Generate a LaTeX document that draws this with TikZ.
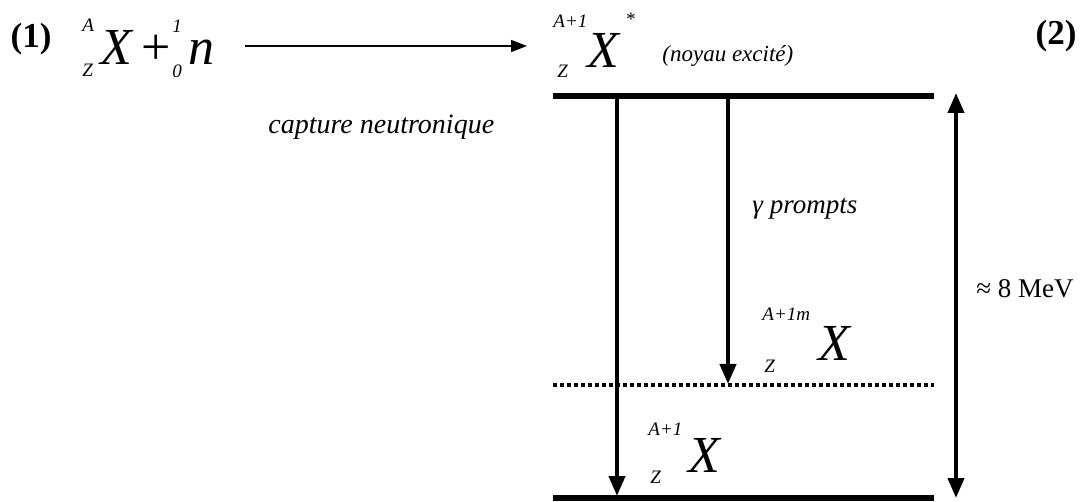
\documentclass[tikz,border=0pt]{standalone}
\usepackage{fontspec}
\setmainfont{Liberation Serif}
\usetikzlibrary{arrows.meta,positioning}

\begin{document}
\begin{tikzpicture}[x=0.5pt, y=-0.5pt,
  big/.style={font=\fontsize{26}{26}\selectfont\itshape, inner sep=0pt, anchor=base west},
  idx/.style={font=\fontsize{9.5}{9.5}\selectfont\itshape, inner sep=0pt, anchor=base west},
  lbl/.style={font=\fontsize{13.5}{13.5}\selectfont\itshape, inner sep=0pt, anchor=base west},
  level/.style={line width=3pt},
  trans/.style={line width=2pt, -{Triangle[width=8pt,length=10pt]}}]
\useasboundingbox (0,0) rectangle (1082,502);

% Reaction (1)
\node (r1) at (31,39) [font=\fontsize{17.5}{17.5}\selectfont\bfseries] {(1)};
\node (tA) at (82,32) [idx] {A};
\node (tZ) at (82,77) [idx] {Z};
\node (tX) at (100,65) [big] {X};
\node (plus) at (141,65) [big, font=\fontsize{26}{26}\selectfont] {+};
\node (nA) at (172,33) [idx] {1};
\node (nZ) at (172,78) [idx] {0};
\node (nn) at (188,65) [big] {n};

% Neutron capture
\coordinate (capt-s) at (245,46);
\coordinate (capt-e) at (527,46);
\draw[line width=0.8pt, -{Triangle[width=6pt,length=8pt]}] (capt-s) -- (capt-e);
\node (capt) at (268,134) [lbl, font=\fontsize{14}{14}\selectfont\itshape] {capture neutronique};

% Excited nucleus (2)
\node (cA) at (553,28) [idx] {A+1};
\node (cZ) at (557,78) [idx] {Z};
\node (cX) at (587,68) [big] {X};
\node (cS) at (625,26) [idx] {*};
\node (exc) at (662,62) [lbl, font=\fontsize{11.5}{11.5}\selectfont\itshape] {(noyau excité)};
\node (r2) at (1056,36) [font=\fontsize{17.5}{17.5}\selectfont\bfseries] {(2)};

% Levels
\coordinate (top-w) at (553,96);  \coordinate (top-e) at (934,96);
\coordinate (iso-w) at (553,385); \coordinate (iso-e) at (934,385);
\coordinate (gnd-w) at (553,498); \coordinate (gnd-e) at (934,498);
\draw[level] (top-w) -- (top-e);
\draw[level, line width=2pt, dash pattern=on 2pt off 1.5pt] (iso-w) -- (iso-e);
\draw[level] (gnd-w) -- (gnd-e);

% Transitions
\coordinate (t1-s) at (617,96);  \coordinate (t1-e) at (617,496);
\coordinate (t2-s) at (728,96);  \coordinate (t2-e) at (728,384);
\draw[trans] (t1-s) -- (t1-e);
\draw[trans] (t2-s) -- (t2-e);
\node (gam) at (752,214) [lbl] {γ prompts};

% Energy gap
\coordinate (gap-t) at (956,93);
\coordinate (gap-b) at (956,498);
\draw[trans, {Triangle[width=8pt,length=10pt]}-{Triangle[width=8pt,length=10pt]}] (gap-t) -- (gap-b);
\node (gap) at (976,298) [lbl, font=\fontsize{13.5}{13.5}\selectfont] {≈ 8 MeV};

% Isomeric state
\node (mA) at (762,321) [idx] {A+1m};
\node (mZ) at (764,372) [idx] {Z};
\node (mX) at (818,360) [big] {X};

% Ground state
\node (gA) at (648,435) [idx] {A+1};
\node (gZ) at (650,483) [idx] {Z};
\node (gX) at (688,472) [big] {X};

\end{tikzpicture}
\end{document}
